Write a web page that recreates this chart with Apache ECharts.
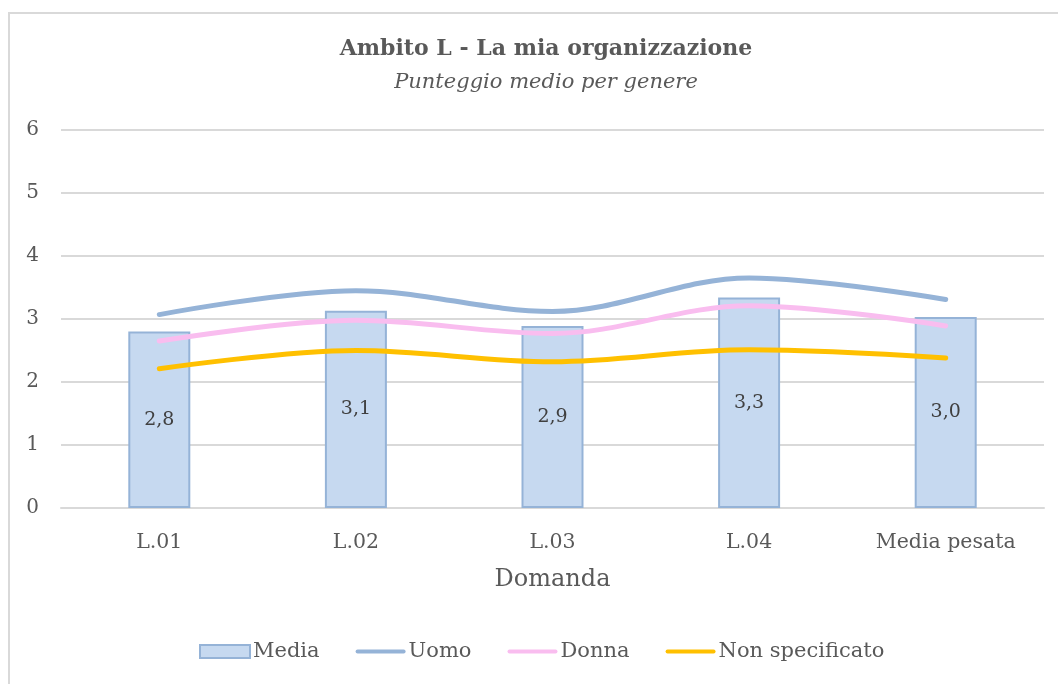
<!DOCTYPE html>
<html>
<head>
<meta charset="utf-8">
<script src="https://cdn.jsdelivr.net/npm/echarts@6/dist/echarts.min.js"></script>
<style>html,body{margin:0;padding:0;background:#fff}#c{width:1058px;height:684px}</style>
</head>
<body>
<div id="c"></div>
<script>
var categories = ['L.01', 'L.02', 'L.03', 'L.04', 'Media pesata'];
var media = [2.80, 3.13, 2.89, 3.34, 3.03];
var uomo = [3.07, 3.45, 3.12, 3.65, 3.31];
var donna = [2.65, 2.98, 2.77, 3.21, 2.89];
var nonSpecificato = [2.21, 2.50, 2.32, 2.51, 2.38];
var yTicks = [0, 1, 2, 3, 4, 5, 6];

var FONT = '"DejaVu Serif", "Liberation Serif", serif';
var LINE_ICON = 'path://M2,5 L48,5 A2,2 0 0 1 48,9 L2,9 A2,2 0 0 1 2,5 Z';
var chart = echarts.init(document.getElementById('c'), null, {renderer: 'canvas'});
chart.setOption({
  animation: false,
  backgroundColor: '#fff',
  textStyle: {fontFamily: FONT},
  graphic: [{
    type: 'rect', shape: {x: 9, y: 13, width: 1100, height: 700},
    style: {fill: 'none', stroke: '#d9d9d9', lineWidth: 2}, silent: true
  }],
  title: {
    text: 'Ambito L - La mia organizzazione',
    subtext: 'Punteggio medio per genere',
    left: 541, top: 33, textAlign: 'center', itemGap: 12,
    textStyle: {fontFamily: FONT, fontSize: 22, fontWeight: 'bold', color: '#595959'},
    subtextStyle: {fontFamily: FONT, fontSize: 21, fontStyle: 'italic', color: '#595959'}
  },
  legend: {
    top: 636, left: 194, itemWidth: 50, itemHeight: 13, itemGap: 36,
    textStyle: {fontFamily: FONT, fontSize: 21, color: '#595959', padding: [0, 0, 0, -2]},
    data: [
      {name: 'Media', icon: 'rect'},
      {name: 'Uomo', icon: LINE_ICON},
      {name: 'Donna', icon: LINE_ICON},
      {name: 'Non specificato', icon: LINE_ICON}
    ]
  },
  grid: {left: 61, right: 14, top: 130, bottom: 176, containLabel: false},
  xAxis: {
    type: 'category', data: categories,
    name: 'Domanda', nameLocation: 'middle', nameGap: 60,
    nameTextStyle: {fontFamily: FONT, fontSize: 24, color: '#595959'},
    axisLine: {lineStyle: {color: '#d9d9d9', width: 2}},
    axisTick: {show: false},
    axisLabel: {fontFamily: FONT, fontSize: 20.5, color: '#595959', margin: 24}
  },
  yAxis: {
    type: 'value', min: 0, max: 6, interval: 1,
    axisLine: {show: false}, axisTick: {show: false},
    splitLine: {lineStyle: {color: '#d9d9d9', width: 2}},
    axisLabel: {fontFamily: FONT, fontSize: 20, color: '#595959', margin: 22,
      formatter: function (v) { return yTicks.indexOf(v) >= 0 ? String(v) : ''; }}
  },
  series: [
    {
      name: 'Media', type: 'bar', data: media, barWidth: 62, z: 1,
      itemStyle: {color: '#C6D9F0', borderColor: '#95B3D7', borderWidth: 2},
      label: {show: true, position: 'inside', fontFamily: FONT, fontSize: 19, color: '#404040',
        formatter: function (p) { return p.value.toFixed(1).replace('.', ','); }}
    },
    {
      name: 'Uomo', type: 'line', data: uomo, smooth: 0.35, symbol: 'none', z: 3,
      lineStyle: {color: '#95B3D7', width: 5, cap: 'round'}, itemStyle: {color: '#95B3D7'}
    },
    {
      name: 'Donna', type: 'line', data: donna, smooth: 0.35, symbol: 'none', z: 3,
      lineStyle: {color: '#F9BDEF', width: 5, cap: 'round'}, itemStyle: {color: '#F9BDEF'}
    },
    {
      name: 'Non specificato', type: 'line', data: nonSpecificato, smooth: 0.35, symbol: 'none', z: 3,
      lineStyle: {color: '#FFC000', width: 5, cap: 'round'}, itemStyle: {color: '#FFC000'}
    }
  ]
});
</script>
</body>
</html>
